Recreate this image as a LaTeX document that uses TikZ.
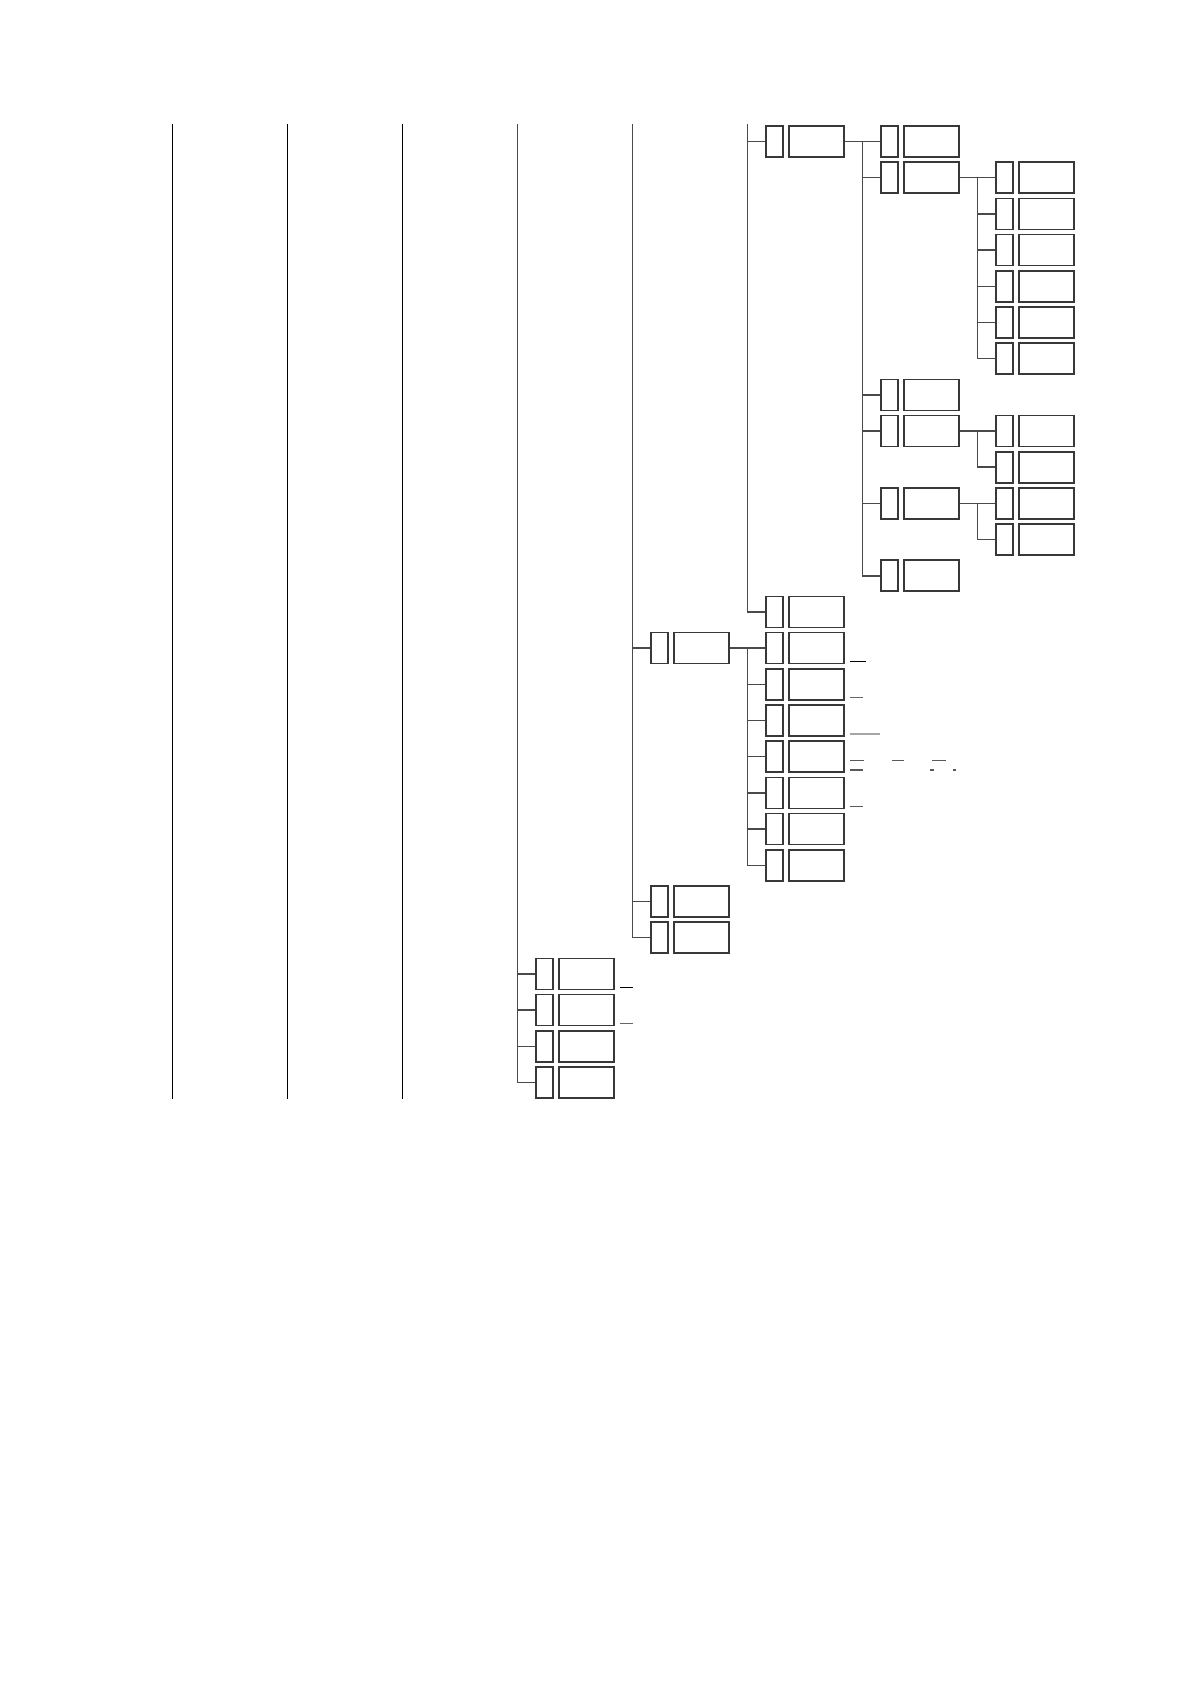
\documentclass[tikz,border=0pt]{standalone}
\usetikzlibrary{calc}
\definecolor{trunkc}{HTML}{4A4A4A}
\definecolor{boxc}{HTML}{383838}
\tikzset{
  sbox/.style={draw=boxc, line width=0.8pt, fill=white, minimum width=8.5pt, minimum height=15.5pt, inner sep=0pt, anchor=north west},
  bbox/.style={draw=boxc, line width=0.8pt, fill=white, minimum width=27.5pt, minimum height=15.5pt, inner sep=0pt, anchor=north west},
  trunk/.style={draw=trunkc, line width=0.75pt},
  guide/.style={draw=black, line width=0.55pt},
  dashmark/.style={line width=0.55pt},
}
\newcommand\ent[3]{%
  \pgfmathsetmacro\tx{172.3+115*#2}%
  \pgfmathsetmacro\ty{125+36.19*#3}%
  \node[sbox] (#1s) at (\tx+17.9,\ty+0.2) {};%
  \node[bbox] (#1b) at (\tx+40.6,\ty+0.2) {};%
}
\begin{document}
\begin{tikzpicture}[x=0.5pt,y=-0.5pt]
\useasboundingbox (0,0) rectangle (1191,1684);
% trunk tops
\foreach \i in {0,...,7} {
  \pgfmathsetmacro\tx{172.3+115*\i}
  \coordinate (t\i) at (\tx,124.5);
}
\coordinate (bot) at (0,1099.3);
% long guide lines
\draw[guide] (t0) -- (t0 |- bot);
\draw[guide] (t1) -- (t1 |- bot);
\draw[guide] (t2) -- (t2 |- bot);
% entries
\ent{a}{5}{0}
\ent{aa}{6}{0}
\ent{ab}{6}{1}
\ent{ac}{6}{7}
\ent{ad}{6}{8}
\ent{ae}{6}{10}
\ent{af}{6}{12}
\ent{ba}{7}{1}
\ent{bb}{7}{2}
\ent{bc}{7}{3}
\ent{bd}{7}{4}
\ent{be}{7}{5}
\ent{bf}{7}{6}
\ent{da}{7}{8}
\ent{db}{7}{9}
\ent{ea}{7}{10}
\ent{eb}{7}{11}
\ent{b}{5}{13}
\ent{c}{4}{14}
\ent{ca}{5}{14}
\ent{cb}{5}{15}
\ent{cc}{5}{16}
\ent{cd}{5}{17}
\ent{ce}{5}{18}
\ent{cf}{5}{19}
\ent{cg}{5}{20}
\ent{d}{4}{21}
\ent{e}{4}{22}
\ent{fa}{3}{23}
\ent{fb}{3}{24}
\ent{fc}{3}{25}
\ent{fd}{3}{26}
% trunks from the top
\draw[trunk] (t5) |- (bs.west);
\draw[trunk] (as.west -| t5) -- (as.west);
\draw[trunk] (t4) |- (es.west);
\foreach \n in {c,d} \draw[trunk] (\n s.west -| t4) -- (\n s.west);
\draw[trunk] (t3) |- (fds.west);
\foreach \n in {fa,fb,fc} \draw[trunk] (\n s.west -| t3) -- (\n s.west);
% a -> children
\draw[trunk] (ab.east) -- (aas.west);
\draw[trunk] (aas.west -| t6) |- (afs.west);
\foreach \n in {ab,ac,ad,ae} \draw[trunk] (\n s.west -| t6) -- (\n s.west);
% ab -> children
\draw[trunk] (abb.east) -- (bas.west);
\draw[trunk] (bas.west -| t7) |- (bfs.west);
\foreach \n in {bb,bc,bd,be} \draw[trunk] (\n s.west -| t7) -- (\n s.west);
% ad -> children
\draw[trunk] (adb.east) -- (das.west);
\draw[trunk] (das.west -| t7) |- (dbs.west);
% ae -> children
\draw[trunk] (aeb.east) -- (eas.west);
\draw[trunk] (eas.west -| t7) |- (ebs.west);
% c -> children
\draw[trunk] (cb.east) -- (cas.west);
\draw[trunk] (cas.west -| t5) |- (cgs.west);
\foreach \n in {cb,cc,cd,ce,cf} \draw[trunk] (\n s.west -| t5) -- (\n s.west);
% small marks
\draw[dashmark, black] (850,661.5) -- (866,661.5);
\draw[dashmark, black!60] (850,697.3) -- (863,697.3);
\draw[dashmark, black!35, line width=0.8pt] (850,734) -- (880,734);
\draw[dashmark, black!65] (850,760.3) -- (864,760.3) (891.7,760.3) -- (904,760.3) (932.3,760.3) -- (946,760.3);
\draw[dashmark, black!65] (850,770) -- (863,770) (930,770) -- (934,770) (953,770) -- (956,770);
\draw[dashmark, black!65] (850,806.3) -- (863,806.3);
\draw[dashmark, black] (620,987.3) -- (633.3,987.3);
\draw[dashmark, black!60] (620,1023.3) -- (633.3,1023.3);
\end{tikzpicture}
\end{document}
